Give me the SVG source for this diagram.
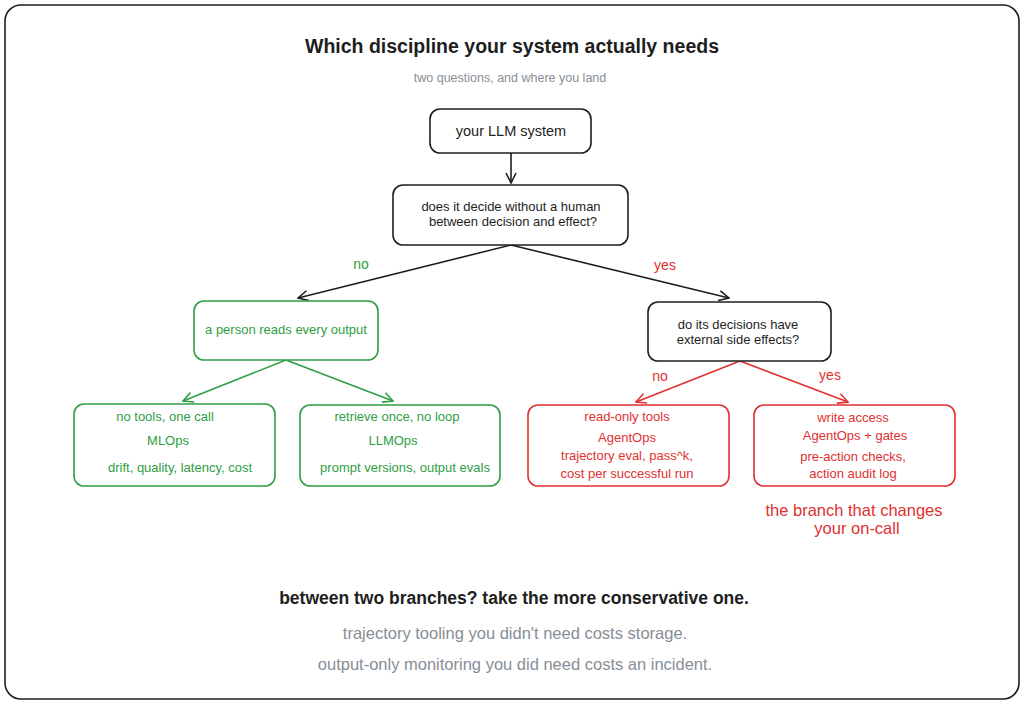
<svg xmlns="http://www.w3.org/2000/svg" width="1024" height="704" viewBox="0 0 1024 704">
<defs>
<style>
text{font-family:"Liberation Sans","Noto Sans",sans-serif;text-anchor:middle;}
.k{fill:#1e1e1e}.g{fill:#2f9e44}.r{fill:#e03131}.gr{fill:#868e96}
.bk{fill:#fff;stroke:#1e1e1e;stroke-width:1.6}
.bg{fill:#fff;stroke:#2f9e44;stroke-width:1.6}
.br{fill:#fff;stroke:#e03131;stroke-width:1.6}
.ck{stroke:#1e1e1e;stroke-width:1.6;fill:none}
.cg{stroke:#2f9e44;stroke-width:1.6;fill:none}
.cr{stroke:#e03131;stroke-width:1.6;fill:none}
.t14{font-size:14px}.t13{font-size:13px}
</style>
<marker id="ak" viewBox="0 0 12 12" refX="11" refY="6" markerWidth="12" markerHeight="12" markerUnits="userSpaceOnUse" orient="auto"><path d="M1,1 L11,6 L1,11" fill="none" stroke="#1e1e1e" stroke-width="1.6"/></marker>
<marker id="ag" viewBox="0 0 12 12" refX="11" refY="6" markerWidth="12" markerHeight="12" markerUnits="userSpaceOnUse" orient="auto"><path d="M1,1 L11,6 L1,11" fill="none" stroke="#2f9e44" stroke-width="1.6"/></marker>
<marker id="ar" viewBox="0 0 12 12" refX="11" refY="6" markerWidth="12" markerHeight="12" markerUnits="userSpaceOnUse" orient="auto"><path d="M1,1 L11,6 L1,11" fill="none" stroke="#e03131" stroke-width="1.6"/></marker>
</defs>
<rect x="0" y="0" width="1024" height="704" fill="#fff"/>
<rect x="5" y="5" width="1014" height="694" rx="16" fill="none" stroke="#1e1e1e" stroke-width="1.6"/>

<g id="title">
<text x="512" y="53" class="k" font-size="19.5" font-weight="bold">Which discipline your system actually needs</text>
<text x="510" y="82" class="gr" font-size="12.5">two questions, and where you land</text>
</g>

<g id="connectors">
<line x1="511" y1="153" x2="511" y2="183" class="ck" marker-end="url(#ak)"/>
<line x1="511" y1="245" x2="298" y2="298" class="ck" marker-end="url(#ak)"/>
<line x1="511" y1="245" x2="729" y2="298" class="ck" marker-end="url(#ak)"/>
<line x1="286" y1="360" x2="183" y2="401" class="cg" marker-end="url(#ag)"/>
<line x1="286" y1="360" x2="393" y2="401" class="cg" marker-end="url(#ag)"/>
<line x1="740" y1="361" x2="636" y2="402" class="cr" marker-end="url(#ar)"/>
<line x1="740" y1="361" x2="848" y2="402" class="cr" marker-end="url(#ar)"/>
<text x="361" y="269" class="g t14">no</text>
<text x="665" y="270" class="r t14">yes</text>
<text x="660" y="381" class="r t14">no</text>
<text x="830" y="380" class="r t14">yes</text>
</g>

<g id="n1">
<rect x="430" y="109" width="161" height="44" rx="10" class="bk"/>
<text x="511" y="136" class="k" font-size="14.5">your LLM system</text>
</g>
<g id="n2">
<rect x="393" y="185" width="235" height="60" rx="10" class="bk"/>
<text x="511" y="211" class="k t13">does it decide without a human</text>
<text x="513" y="226" class="k t13">between decision and effect?</text>
</g>
<g id="n3">
<rect x="194" y="301" width="184" height="59" rx="10" class="bg"/>
<text x="286" y="334" class="g t13">a person reads every output</text>
</g>
<g id="n4">
<rect x="74" y="404" width="201" height="82" rx="10" class="bg"/>
<text x="165" y="421" class="g t13">no tools, one call</text>
<text x="168" y="445" class="g t13">MLOps</text>
<text x="180" y="472" class="g t13">drift, quality, latency, cost</text>
</g>
<g id="n5">
<rect x="300" y="405" width="200" height="81" rx="10" class="bg"/>
<text x="397" y="421" class="g t13">retrieve once, no loop</text>
<text x="393" y="445" class="g t13">LLMOps</text>
<text x="405" y="472" class="g t13">prompt versions, output evals</text>
</g>
<g id="n6">
<rect x="648" y="302" width="183" height="59" rx="10" class="bk"/>
<text x="738" y="329" class="k t13">do its decisions have</text>
<text x="738" y="344" class="k t13">external side effects?</text>
</g>
<g id="n7">
<rect x="528" y="405" width="201" height="81" rx="10" class="br"/>
<text x="627" y="421" class="r t13">read-only tools</text>
<text x="627" y="442" class="r t13">AgentOps</text>
<text x="627" y="460" class="r t13">trajectory eval, pass^k,</text>
<text x="627" y="478" class="r t13">cost per successful run</text>
</g>
<g id="n8">
<rect x="754" y="405" width="201" height="81" rx="10" class="br"/>
<text x="853" y="422" class="r t13">write access</text>
<text x="855" y="440" class="r t13">AgentOps + gates</text>
<text x="853" y="461" class="r t13">pre-action checks,</text>
<text x="853" y="478" class="r t13">action audit log</text>
</g>
<g id="note">
<text x="854" y="516" class="r" font-size="16.5">the branch that changes</text>
<text x="857" y="534" class="r" font-size="16.5">your on-call</text>
</g>
<g id="footer">
<text x="514" y="604" class="k" font-size="17.5" font-weight="bold">between two branches? take the more conservative one.</text>
<text x="515" y="639" class="gr" font-size="16.5">trajectory tooling you didn't need costs storage.</text>
<text x="515" y="670" class="gr" font-size="16.5">output-only monitoring you did need costs an incident.</text>
</g>
</svg>
